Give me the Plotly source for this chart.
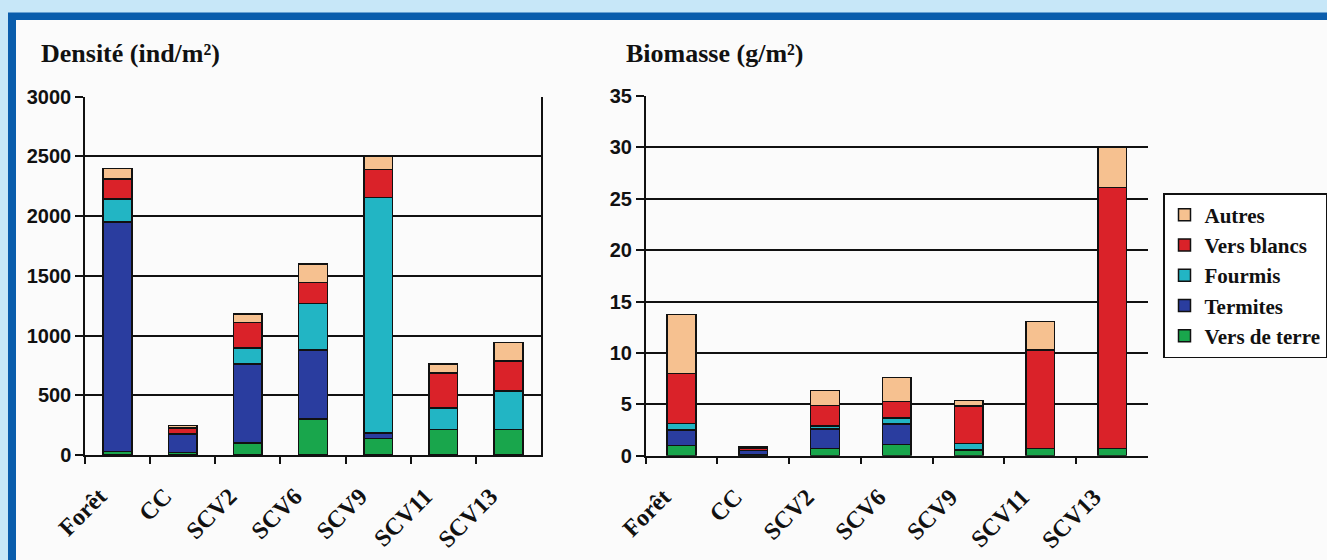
import plotly.graph_objects as go

# Sites
categories = ["Forêt", "CC", "SCV2", "SCV6", "SCV9", "SCV11", "SCV13"]

# Densité (ind/m²) par groupe
dens_vers_de_terre = [30, 20, 100, 300, 140, 215, 215]
dens_termites = [1920, 155, 660, 580, 45, 0, 0]
dens_fourmis = [195, 5, 135, 390, 1970, 180, 320]
dens_vers_blancs = [165, 45, 215, 175, 235, 290, 250]
dens_autres = [90, 20, 70, 155, 110, 75, 155]

# Biomasse (g/m²) par groupe
bio_vers_de_terre = [1.0, 0.05, 0.7, 1.1, 0.5, 0.7, 0.7]
bio_termites = [1.5, 0.45, 1.9, 2.0, 0.05, 0, 0]
bio_fourmis = [0.65, 0.02, 0.3, 0.55, 0.65, 0, 0]
bio_vers_blancs = [4.85, 0.25, 2.0, 1.6, 3.65, 9.6, 25.4]
bio_autres = [5.75, 0.08, 1.45, 2.35, 0.5, 2.75, 3.9]

group_names = ["Vers de terre", "Termites", "Fourmis", "Vers blancs", "Autres"]
group_colors = ["#19a64c", "#2a3d9f", "#22b5c4", "#da2229", "#f6c190"]

density = [dens_vers_de_terre, dens_termites, dens_fourmis, dens_vers_blancs, dens_autres]
biomass = [bio_vers_de_terre, bio_termites, bio_fourmis, bio_vers_blancs, bio_autres]

W, H = 1327, 560
SERIF = "Liberation Serif"
SANS = "Liberation Sans"


def px_x(v):
    return v / W


def px_y(v):
    return 1 - v / H


fig = go.Figure()

for name, color, vals in zip(group_names, group_colors, density):
    fig.add_trace(go.Bar(
        x=categories, y=vals, name=name, legendgroup=name,
        marker=dict(color=color, line=dict(color="#111111", width=1.5)),
        width=0.44, xaxis="x", yaxis="y", showlegend=True,
    ))

for name, color, vals in zip(group_names, group_colors, biomass):
    fig.add_trace(go.Bar(
        x=categories, y=vals, name=name, legendgroup=name,
        marker=dict(color=color, line=dict(color="#111111", width=1.5)),
        width=0.40, xaxis="x2", yaxis="y2", showlegend=False,
    ))

tick_font = dict(family=SANS, size=20, color="#111111", weight="bold")
cat_font = dict(family=SERIF, size=24, color="#111111", weight="bold")

xaxis_common = dict(
    type="category", showline=True, linecolor="#111111", linewidth=1.5,
    ticks="outside", tickson="boundaries", ticklen=7, tickwidth=1.5,
    tickcolor="#111111", tickangle=-45, tickfont=cat_font,
    ticklabelstandoff=16, ticklabelshift=-18,
    showgrid=False, zeroline=False, fixedrange=True, automargin=False,
)
yaxis_common = dict(
    showline=True, linecolor="#111111", linewidth=1.5,
    ticks="outside", ticklen=8, tickwidth=1.5, tickcolor="#111111",
    tickfont=tick_font, showgrid=True, gridcolor="#111111", gridwidth=1.8,
    zeroline=False, fixedrange=True, automargin=False,
)

fig.update_layout(
    width=W, height=H, autosize=False,
    margin=dict(l=0, r=0, t=0, b=0, autoexpand=False),
    paper_bgcolor="#c7e7f8", plot_bgcolor="rgba(0,0,0,0)",
    barmode="stack",
    xaxis=dict(domain=[px_x(85), px_x(541)], anchor="y", **xaxis_common),
    yaxis=dict(domain=[px_y(455), px_y(96.7)], anchor="x", range=[0, 3000],
               tickvals=[0, 500, 1000, 1500, 2000, 2500, 3000], mirror=True,
               **yaxis_common),
    xaxis2=dict(domain=[px_x(645.7), px_x(1148)], anchor="y2", **xaxis_common),
    yaxis2=dict(domain=[px_y(455.7), px_y(95.9)], anchor="x2", range=[0, 35],
                tickvals=[0, 5, 10, 15, 20, 25, 30, 35], **yaxis_common),
    legend=dict(
        x=px_x(1163), y=px_y(193), xref="container", yref="container",
        xanchor="left", yanchor="top",
        traceorder="reversed", bgcolor="#ffffff", bordercolor="#111111",
        borderwidth=1.5, font=dict(family=SERIF, size=21, color="#111111", weight="bold"),
        itemwidth=30, tracegroupgap=0,
    ),
    showlegend=True,
    shapes=[
        # dark blue frame and inner panel
        dict(type="rect", xref="paper", yref="paper", layer="below",
             x0=px_x(8), x1=1.05, y0=-0.05, y1=px_y(12.5),
             fillcolor="#0a5dac", line=dict(width=0)),
        dict(type="rect", xref="paper", yref="paper", layer="below",
             x0=px_x(16), x1=1.05, y0=-0.05, y1=px_y(20),
             fillcolor="#fbfbfb", line=dict(width=0)),
    ],
    annotations=[
        dict(text="Densité (ind/m²)", x=px_x(39), y=px_y(53), xref="paper", yref="paper",
             xanchor="left", yanchor="middle", showarrow=False,
             font=dict(family=SERIF, size=26, color="#111111", weight="bold")),
        dict(text="Biomasse (g/m²)", x=px_x(624), y=px_y(53), xref="paper", yref="paper",
             xanchor="left", yanchor="middle", showarrow=False,
             font=dict(family=SERIF, size=26, color="#111111", weight="bold")),
    ],
)

fig.write_html("out.html")
